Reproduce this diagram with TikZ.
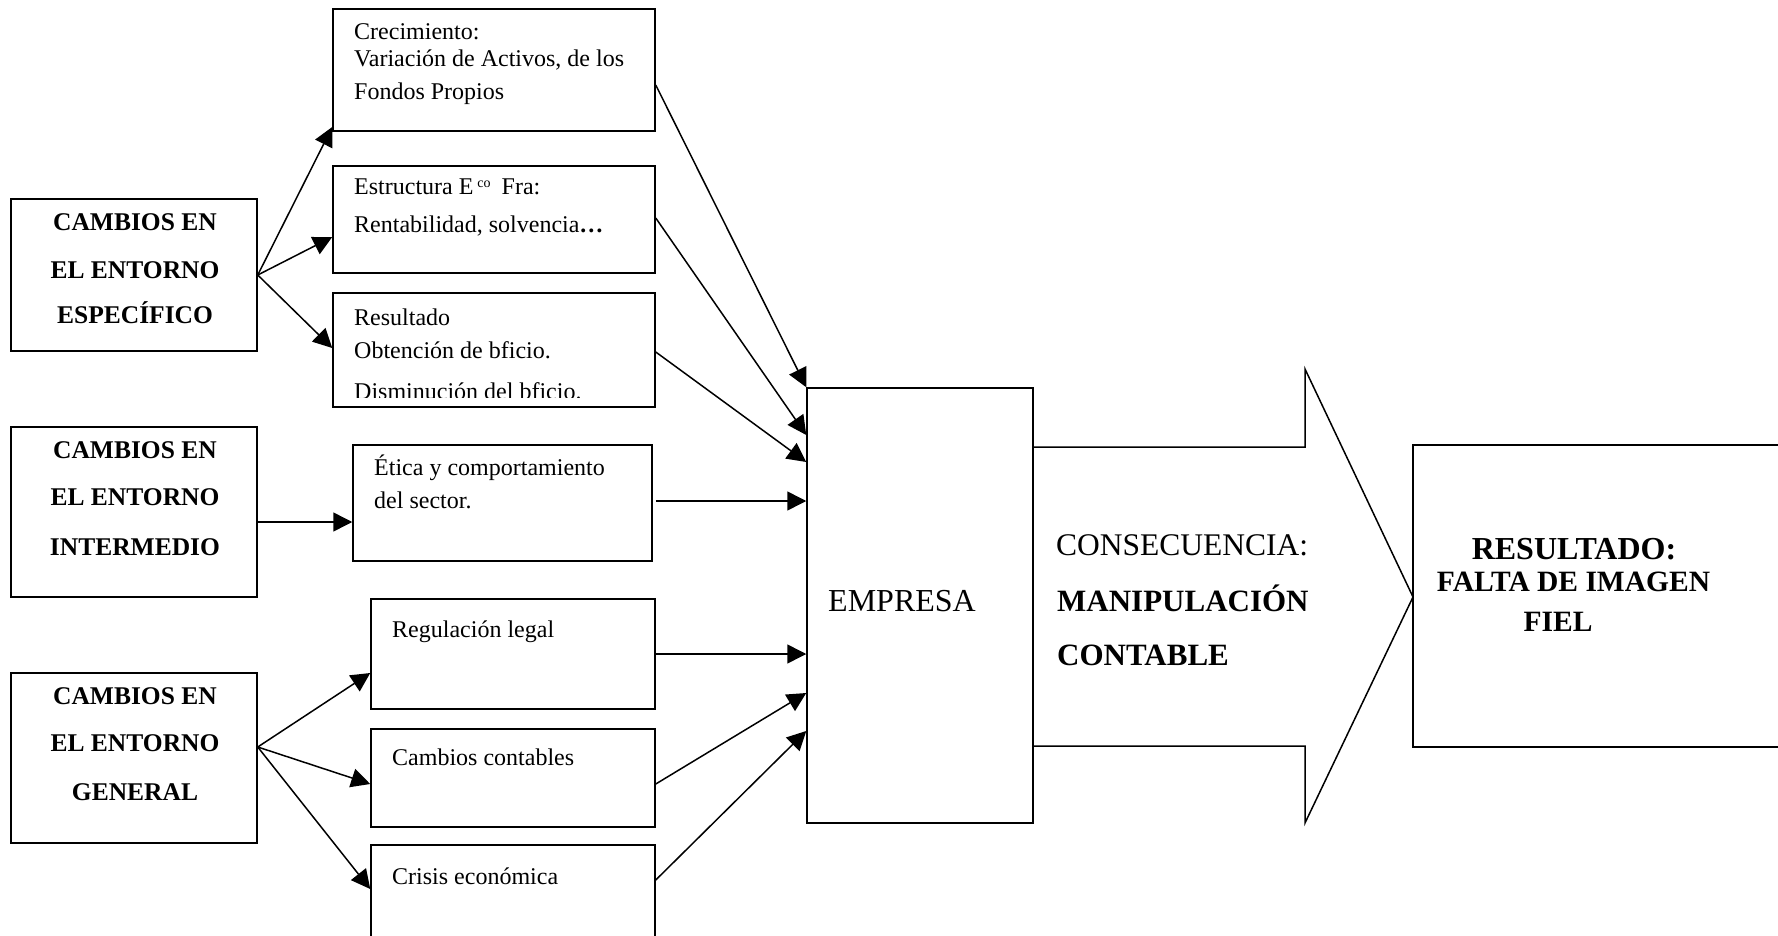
\documentclass[tikz,border=0pt]{standalone}
\usepackage{fontspec}
\setmainfont{Liberation Serif}
\usetikzlibrary{arrows.meta}
\begin{document}
\begin{tikzpicture}[x=1pt,y=-1pt,
  box/.style={draw, line width=1.5pt, rectangle, inner sep=0pt},
  conn/.style={line width=1.5pt, -{Triangle[length=19pt,width=19pt]}},
  btxt/.style={font=\bfseries\fontsize{25.5}{30}\selectfont, anchor=base, inner sep=0pt},
  txt/.style={font=\fontsize{24}{28}\selectfont, anchor=base west, inner sep=0pt},
  ltxt/.style={font=\fontsize{31.5}{36}\selectfont, anchor=base west, inner sep=0pt},
  lbtxt/.style={font=\bfseries\fontsize{31}{36}\selectfont, anchor=base west, inner sep=0pt},
  rtxt/.style={font=\bfseries\fontsize{29.5}{34}\selectfont, anchor=base, inner sep=0pt}]
\useasboundingbox (0,0) rectangle (1778,936);

% boxes
\node[box, minimum width=246pt, minimum height=152pt] (b1) at (134,275) {};
\node[box, minimum width=246pt, minimum height=170pt] (b2) at (134,512) {};
\node[box, minimum width=246pt, minimum height=170pt] (b3) at (134,758) {};
\node[box, minimum width=322pt, minimum height=122pt] (m1) at (494,70) {};
\node[box, minimum width=322pt, minimum height=107pt] (m2) at (494,219.5) {};
\node[box, minimum width=322pt, minimum height=114pt] (m3) at (494,350) {};
\node[box, minimum width=299pt, minimum height=116pt] (m4) at (502.5,503) {};
\node[box, minimum width=284pt, minimum height=110pt] (m5) at (513,654) {};
\node[box, minimum width=284pt, minimum height=98pt] (m6) at (513,778) {};
\node[box, minimum width=284pt, minimum height=105pt] (m7) at (513,897.5) {};
\node[box, minimum width=226pt, minimum height=435pt] (emp) at (920,605.5) {};
\node[box, minimum width=372pt, minimum height=302pt] (res) at (1599,596) {};

% left box texts
\node[btxt] (b1a) at (135,231) {CAMBIOS EN};
\node[btxt] (b1b) at (135,278) {EL ENTORNO};
\node[btxt] (b1c) at (135,323) {ESPECÍFICO};
\node[btxt] (b2a) at (135,458) {CAMBIOS EN};
\node[btxt] (b2b) at (135,505) {EL ENTORNO};
\node[btxt] (b2c) at (135,555) {INTERMEDIO};
\node[btxt] (b3a) at (135,704) {CAMBIOS EN};
\node[btxt] (b3b) at (135,751) {EL ENTORNO};
\node[btxt] (b3c) at (135,800) {GENERAL};

% middle box texts
\node[txt] (m1a) at (354,40) {Crecimiento:};
\node[txt] (m1b) at (354,67) {Variación de Activos, de los};
\node[txt] (m1c) at (354,100) {Fondos Propios};
\node[txt] (m2a) at (354,195) {Estructura E\hspace{4pt}\raisebox{7pt}{\fontsize{14}{14}\selectfont co}\hspace{11pt}Fra:};
\node[txt] (m2b) at (354,233) {Rentabilidad, solvencia\textbf{…}};
\node[txt] (m3a) at (354,325) {Resultado};
\node[txt] (m3b) at (354,358) {Obtención de bficio.};
\begin{scope}
  \clip (334,294) rectangle (654,397);
  \node[txt] (m3c) at (354,399) {Disminución del bficio.};
\end{scope}
\node[txt] (m4a) at (374,475) {Ética y comportamiento};
\node[txt] (m4b) at (374,508) {del sector.};
\node[txt] (m5a) at (392,637) {Regulación legal};
\node[txt] (m6a) at (392,765) {Cambios contables};
\node[txt] (m7a) at (392,884) {Crisis económica};

% empresa and consequence
\node[ltxt, font=\fontsize{32}{36}\selectfont] (empt) at (828,611.5) {EMPRESA};
\node[ltxt] (c1) at (1056,555) {CONSECUENCIA:};
\node[lbtxt] (c2) at (1057,611) {MANIPULACIÓN};
\node[lbtxt] (c3) at (1057,665) {CONTABLE};

% result texts
\node[rtxt, font=\bfseries\fontsize{32}{36}\selectfont] (r1) at (1574,559) {RESULTADO:};
\node[rtxt] (r2) at (1573.5,591) {FALTA DE IMAGEN};
\node[rtxt] (r3) at (1558,631) {FIEL};

% big arrow
\draw[line width=1.5pt] (1033,447) -- (1305,447) -- (1305,369) -- (1413,597)
  -- (1305,823) -- (1305,746) -- (1033,746);

% connectors left -> middle
\draw[conn] (b1.east) -- ([yshift=-57pt]m1.west);
\draw[conn] (b1.east) -- ([yshift=-17.5pt]m2.west);
\draw[conn] (b1.east) -- ([yshift=2pt]m3.west);
\draw[conn] ([yshift=-10pt]b2.east) -- ([yshift=-19pt]m4.west);
\draw[conn] ([yshift=11pt]b3.east) -- ([yshift=-19pt]m5.west);
\draw[conn] ([yshift=11pt]b3.east) -- ([yshift=-6pt]m6.west);
\draw[conn] ([yshift=11pt]b3.east) -- ([yshift=8.5pt]m7.west);

% connectors middle -> empresa
\draw[conn] ([yshift=-15pt]m1.east) -- (emp.north west);
\draw[conn] ([yshift=1.5pt]m2.east) -- ([yshift=170.5pt]emp.west);
\draw[conn] ([yshift=-2pt]m3.east) -- ([yshift=143.5pt]emp.west);
\draw[conn] ([yshift=2pt,xshift=3pt]m4.east) -- ([yshift=104.5pt]emp.west);
\draw[conn] (m5.east) -- ([yshift=-48.5pt]emp.west);
\draw[conn] ([yshift=-6pt]m6.east) -- ([yshift=-87.5pt]emp.west);
\draw[conn] ([yshift=17.5pt]m7.east) -- ([yshift=-125.5pt]emp.west);
\end{tikzpicture}
\end{document}
